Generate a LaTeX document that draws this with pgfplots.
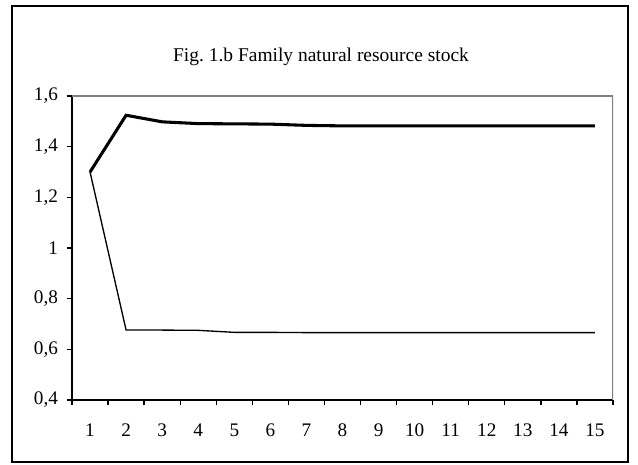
\documentclass[border=0pt]{standalone}
\usepackage{pgfplots}
\pgfplotsset{compat=1.18}
\usepackage{fontspec}
\setmainfont{Liberation Serif}

\begin{document}
\frenchspacing
\begin{tikzpicture}
  % page frame: 638 x 464 px at 0.75pt/px, origin at the axis' lower left corner
  \useasboundingbox (-54pt,-48pt) rectangle (424.5pt,300pt);
  \draw[line width=1.5pt] (-45pt,-46.5pt) rectangle (417pt,295.5pt);
  \node[font=\fontsize{14.6}{16}\selectfont] at (186.75pt,257.25pt) {Fig. 1.b Family natural resource stock};
  \begin{axis}[
      at={(0,0)}, anchor=south west,
      scale only axis,
      width=405.75pt, height=228pt,
      xmin=0.5, xmax=15.5,
      ymin=0.4, ymax=1.6,
      axis x line*=bottom, axis y line*=left,
      axis line style={line width=1.5pt, -},
      xtick={1,...,15},
      xticklabels={1,2,3,4,5,6,7,8,9,10,11,12,13,14,15},
      major x tick style={draw=none},
      minor xtick={0.5,1.5,...,15.5},
      minor tick length=4pt,
      ytick={0.4,0.6,...,1.61},
      yticklabels={{0,4},{0,6},{0,8},1,{1,2},{1,4},{1,6}},
      major tick length=4pt,
      tick align=outside,
      tick style={black, line width=1pt},
      tick label style={font=\fontsize{14.4}{16}\selectfont},
      xticklabel style={yshift=-10pt, text height=10pt, text depth=0pt},
      yticklabel style={xshift=-3pt},
    ]
    \draw[gray, line width=1.5pt] (rel axis cs:0,1) -- (rel axis cs:1,1) -- (rel axis cs:1,0);
    \addplot[black, line width=2.3pt] coordinates {
      (1,1.300) (2,1.524) (3,1.498) (4,1.491) (5,1.490) (6,1.489) (7,1.484)
      (8,1.482) (9,1.482) (10,1.482) (11,1.482) (12,1.482) (13,1.482) (14,1.482) (15,1.482)
    };
    \addplot[black, line width=1pt] coordinates {
      (1,1.300) (2,0.676) (3,0.676) (4,0.675) (5,0.667) (6,0.667) (7,0.666)
      (8,0.666) (9,0.666) (10,0.666) (11,0.666) (12,0.666) (13,0.666) (14,0.666) (15,0.666)
    };
  \end{axis}
\end{tikzpicture}
\end{document}
